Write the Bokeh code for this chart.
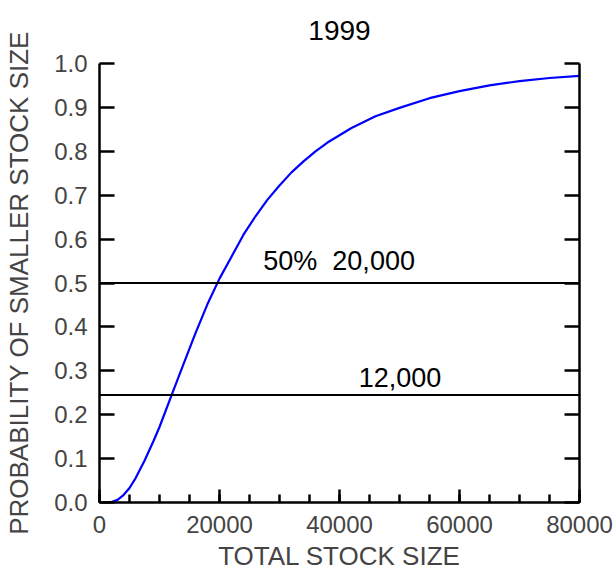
from bokeh.plotting import figure
from bokeh.models import Range1d, LinearAxis, Span, Label, FixedTicker, PrintfTickFormatter
from bokeh.embed import file_html
from bokeh.resources import INLINE

# data
stock_size = [0, 1000, 2000, 3000, 4000, 5000, 6000, 7500, 9000, 10000, 12000, 14000,
              16000, 18000, 20000, 22000, 24000, 26000, 28000, 30000, 32000, 34000, 36000,
              38000, 42000, 46000, 50000, 55000, 60000, 65000, 70000, 75000, 80000]
probability = [0.0, 0.0, 0.001, 0.006, 0.017, 0.033, 0.055, 0.095, 0.140, 0.172, 0.244, 0.315,
               0.386, 0.452, 0.510, 0.560, 0.610, 0.652, 0.690, 0.722, 0.752, 0.777, 0.800,
               0.820, 0.853, 0.880, 0.899, 0.921, 0.937, 0.950, 0.960, 0.967, 0.972]
ref_levels = [0.5, 0.245]
ref_labels = ["50%\u00a0 20,000", "12,000"]
label_x = [27300, 43200]
title_text = "1999"
x_ticks = [0, 20000, 40000, 60000, 80000]
x_minor = [0, 5000, 10000, 15000, 20000, 25000, 30000, 35000, 40000,
           45000, 50000, 55000, 60000, 65000, 70000, 75000, 80000]
y_ticks = [0.0, 0.1, 0.2, 0.3, 0.4, 0.5, 0.6, 0.7, 0.8, 0.9, 1.0]

FONT = "Liberation Sans"
TICK_FS = "24px"
AX_FS = "26px"

p = figure(width=615, height=573, output_backend="svg", toolbar_location=None,
           x_range=Range1d(0, 80000), y_range=Range1d(0, 1.0),
           min_border_left=99, min_border_right=36, min_border_top=63, min_border_bottom=70)
p.outline_line_color = None
p.grid.grid_line_color = None
p.background_fill_color = "white"

bottom = p.below[0]
left = p.left[0]

for ax in (bottom, left):
    ax.axis_line_width = 2.5
    ax.major_tick_line_width = 2.5
    ax.minor_tick_line_width = 2.5
    ax.major_tick_out = 0
    ax.minor_tick_out = 0
    ax.major_label_text_font = FONT
    ax.major_label_text_font_size = TICK_FS
    ax.axis_label_text_font = FONT
    ax.axis_label_text_font_size = AX_FS
    ax.axis_label_text_font_style = "normal"

bottom.ticker = FixedTicker(ticks=x_ticks, minor_ticks=x_minor)
bottom.major_tick_in = 13
bottom.minor_tick_in = 8
bottom.axis_label = "TOTAL STOCK SIZE"
bottom.major_label_standoff = 13
bottom.axis_label_standoff = 5

left.ticker = FixedTicker(ticks=y_ticks, minor_ticks=[])
left.major_tick_in = 15
left.minor_tick_in = 0
left.axis_label = "PROBABILITY OF SMALLER STOCK SIZE"
left.major_label_standoff = 12
left.axis_label_standoff = 17
left.formatter = PrintfTickFormatter(format="%.1f")

right = LinearAxis(ticker=FixedTicker(ticks=y_ticks, minor_ticks=[]))
right.axis_line_width = 2.5
right.major_tick_line_width = 2.5
right.major_tick_in = 15
right.major_tick_out = 0
right.minor_tick_in = 0
right.minor_tick_out = 0
right.major_label_text_font_size = "0px"
right.major_label_text_color = None
p.add_layout(right, "right")

# title: label of a bare axis above the frame
top = LinearAxis(ticker=FixedTicker(ticks=[], minor_ticks=[]), axis_label=title_text)
top.axis_line_color = None
top.major_tick_line_color = None
top.minor_tick_line_color = None
top.major_tick_in = 0
top.major_tick_out = 0
top.minor_tick_in = 0
top.minor_tick_out = 0
top.major_label_standoff = 0
top.major_label_text_font_size = "0px"
top.major_label_text_color = None
top.axis_label_text_font = FONT
top.axis_label_text_font_size = "28px"
top.axis_label_text_font_style = "normal"
top.axis_label_text_color = "black"
top.axis_label_standoff = 24
p.add_layout(top, "above")

for lvl in ref_levels:
    p.add_layout(Span(location=lvl, dimension="width", line_color="black", line_width=2))

p.line(stock_size, probability, line_color="#0000ff", line_width=2.2)

for lx, lvl, txt, off in zip(label_x, ref_levels, ref_labels, [7, 8]):
    p.add_layout(Label(x=lx, y=lvl, text=txt, text_font=FONT, text_font_size="27px",
                       text_color="black", y_offset=off))

open("out.html", "w").write(file_html(p, INLINE))
